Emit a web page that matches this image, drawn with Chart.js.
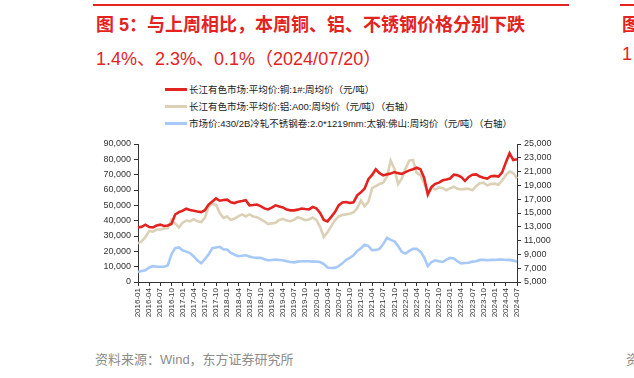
<!DOCTYPE html>
<html>
<head>
<meta charset="utf-8">
<script src="https://cdn.jsdelivr.net/npm/chart.js@4.4.0/dist/chart.umd.min.js"></script>
<style>
  body { margin: 0; background: #fff; }
  #wrap { position: relative; width: 634px; height: 378px; overflow: hidden; font-family: "Liberation Sans", "Noto Sans CJK SC", sans-serif; }
  #chart { position: absolute; left: 0; top: 0; }
  .rule { position: absolute; top: 4px; height: 2px; background: #e3231f; }
  .title { position: absolute; left: 96px; top: 10px; font-size: 18px; font-weight: bold; color: #e3231f; white-space: nowrap; }
  .sub { position: absolute; left: 96px; top: 44px; font-size: 18px; color: #e3231f; white-space: nowrap; }
  .src { position: absolute; left: 95px; top: 349px; font-size: 13px; color: #8c8c8c; white-space: nowrap; }
  .lg { position: absolute; left: 165px; font-size: 9.5px; color: #222; white-space: nowrap; line-height: 12px; }
  .lg i { display: inline-block; width: 22px; height: 3px; vertical-align: middle; margin-right: 2px; position: relative; top: -1px; }
</style>
</head>
<body>
<div id="wrap">
  <div class="rule" style="left:93px;width:476px"></div>
  <div class="rule" style="left:620px;width:20px"></div>
  <div class="title">图 5：与上周相比，本周铜、铝、不锈钢价格分别下跌</div>
  <div class="sub">1.4%、2.3%、0.1%（2024/07/20）</div>
  <div class="title" style="left:622px">图</div>
  <div class="sub" style="left:622px">1</div>
  <div class="src">资料来源：Wind，东方证券研究所</div>
  <div class="src" style="left:626px">资</div>
  <div id="legend"></div>
  <canvas id="chart" width="634" height="378"></canvas>
</div>
<script>
// monthly points, 2016-01 .. 2024-07
const startYear = 2016;
const monthCount = 103;
const months = [];
for (let i = 0; i < monthCount; i++) {
  const y = startYear + Math.floor(i / 12);
  const m = (i % 12) + 1;
  months.push(y + '-' + (m < 10 ? '0' + m : m));
}

const seriesNames = [
  '长江有色市场:平均价:铜:1#:周均价（元/吨）',
  '长江有色市场:平均价:铝:A00:周均价（元/吨）（右轴）',
  '市场价:430/2B冷轧不锈钢卷:2.0*1219mm:太钢:佛山:周均价（元/吨）（右轴）'
];
const seriesColors = ['#e3231f', '#dcd0b6', '#a6c9f7'];

// copper, left axis
const copper = [
  35500, 36000, 37400, 35800, 35600, 36800, 37400, 36500, 36800, 37800, 44000, 45600,
  46500, 47800, 47000, 46500, 46000, 45600, 46800, 50500, 52500, 54500, 53000, 53500,
  53700, 52000, 51500, 52400, 52800, 53300, 50000, 50200, 50500, 49500, 48000, 47300,
  48500, 50000, 49200, 48600, 47200, 46700, 46700, 47200, 47900, 47600, 47400, 48900,
  48000, 45000, 40500, 39500, 42500, 45600, 50000, 51800, 52200, 51500, 52000, 56500,
  58500, 61000, 67000, 69800, 73500, 71000, 69500, 70200, 70700, 71700, 71000, 70500,
  71700, 72800, 73500, 74500, 73500, 68000, 57000, 62000, 64000, 64800, 66300, 66800,
  67500, 70000, 69600, 68500, 66000, 68500, 70000, 70200, 68800, 68000, 67500, 69000,
  69200, 68800, 71500, 78000, 84000, 79500, 80000
];

// aluminium, right axis
const aluminium = [
  10600, 10900, 11500, 12400, 12300, 12600, 12600, 12750, 12800, 14000, 13500, 12900,
  13600, 13900, 13800, 14100, 13800, 13700, 14300, 15900, 16300, 16200, 15000, 14300,
  14500, 14000, 14200, 14500, 14800, 14500, 14800, 14500, 14400, 14100, 13800, 13400,
  13500, 13600, 14000, 14150, 13900, 13800, 14000, 14400, 14200, 13950, 14050, 14350,
  14000, 13000, 11500, 12200, 13100, 13950, 14500, 14700, 14800, 14900, 15100, 15700,
  16800, 16000, 16600, 18600, 18900, 19200, 19400, 20300, 22600, 21400, 19200, 20000,
  21400, 22600, 22700, 20800, 20500, 19300, 18000, 18700, 18400, 18700, 18600, 18300,
  18600, 18800, 18500, 18400, 18500, 18500, 18300, 18900, 19300, 19400, 19000, 19200,
  19250, 19100, 19700, 20500, 21000, 20800, 20000
];

// stainless 430, right axis
const stainless = [
  6450, 6600, 6700, 7100, 7300, 7200, 7200, 7200, 7400, 9000, 9900, 10000,
  9600, 9400, 9200, 8700, 8100, 7700, 8300, 9000, 9900, 10000, 10100, 9700,
  9700, 9200, 8950, 8750, 8800, 8870, 8700, 8550, 8500, 8500, 8300, 8150,
  8200, 8250, 8200, 8150, 8000, 7900, 7850, 7950, 8000, 8000, 8000, 7950,
  7950, 7900, 7600, 7100, 7030, 7050, 7300, 7700, 8200, 8500, 8870, 9500,
  9900, 10400, 10200, 9600, 9650, 9800, 10500, 11400, 11100, 10900, 10200, 9350,
  9120, 9500, 9800, 9800, 9400, 8600, 7300, 7900, 8150, 8000, 7900, 8250,
  8500, 8400, 8000, 7700, 7750, 7800, 7950, 8000, 8200, 8200, 8150, 8200,
  8200, 8250, 8250, 8200, 8200, 8100, 7980
];

const tickMonths = ['01', '04', '07', '10'];

// legend as plain html
const legendEl = document.getElementById('legend');
seriesNames.forEach((name, i) => {
  const d = document.createElement('div');
  d.className = 'lg';
  d.style.top = (84 + i * 17) + 'px';
  d.innerHTML = '<i style="background:' + seriesColors[i] + '"></i>' + name;
  legendEl.appendChild(d);
});

const axisColor = '#333';
const tickFont = { family: 'Liberation Sans', size: 9 };

const ctx = document.getElementById('chart').getContext('2d');
new Chart(ctx, {
  type: 'line',
  data: {
    labels: months,
    datasets: [
      { label: seriesNames[0], data: copper, yAxisID: 'y', borderColor: seriesColors[0], borderWidth: 2.6 },
      { label: seriesNames[1], data: aluminium, yAxisID: 'y1', borderColor: seriesColors[1], borderWidth: 2.6 },
      { label: seriesNames[2], data: stainless, yAxisID: 'y1', borderColor: seriesColors[2], borderWidth: 2.6 }
    ]
  },
  options: {
    responsive: false,
    animation: false,
    layout: { padding: { left: 90, right: 67, top: 144, bottom: 58 } },
    elements: { point: { radius: 0 }, line: { tension: 0 } },
    plugins: { legend: { display: false }, tooltip: { enabled: false } },
    scales: {
      x: {
        grid: { drawOnChartArea: false, drawTicks: true, tickLength: 4, color: axisColor },
        border: { display: true, color: axisColor },
        ticks: {
          autoSkip: false, maxRotation: 90, minRotation: 90, padding: 2,
          color: axisColor, font: { family: 'Liberation Sans', size: 8 },
          callback: function (v, i) {
            const lab = months[i];
            return tickMonths.includes(lab.slice(5)) ? lab : null;
          }
        },
        afterFit: s => { s.height = 38; }
      },
      y: {
        position: 'left', min: 0, max: 90000,
        grid: { drawOnChartArea: false, drawTicks: true, tickLength: 4, color: axisColor },
        border: { display: true, color: axisColor },
        ticks: { stepSize: 10000, color: axisColor, font: tickFont, padding: 3, format: { locale: 'en-US' } },
        afterFit: s => { s.width = 48; }
      },
      y1: {
        position: 'right', min: 5000, max: 25000,
        grid: { drawOnChartArea: false, drawTicks: true, tickLength: 4, color: axisColor },
        border: { display: true, color: axisColor },
        ticks: { stepSize: 2000, color: axisColor, font: tickFont, padding: 3 },
        afterFit: s => { s.width = 50; }
      }
    }
  }
});
</script>
</body>
</html>
